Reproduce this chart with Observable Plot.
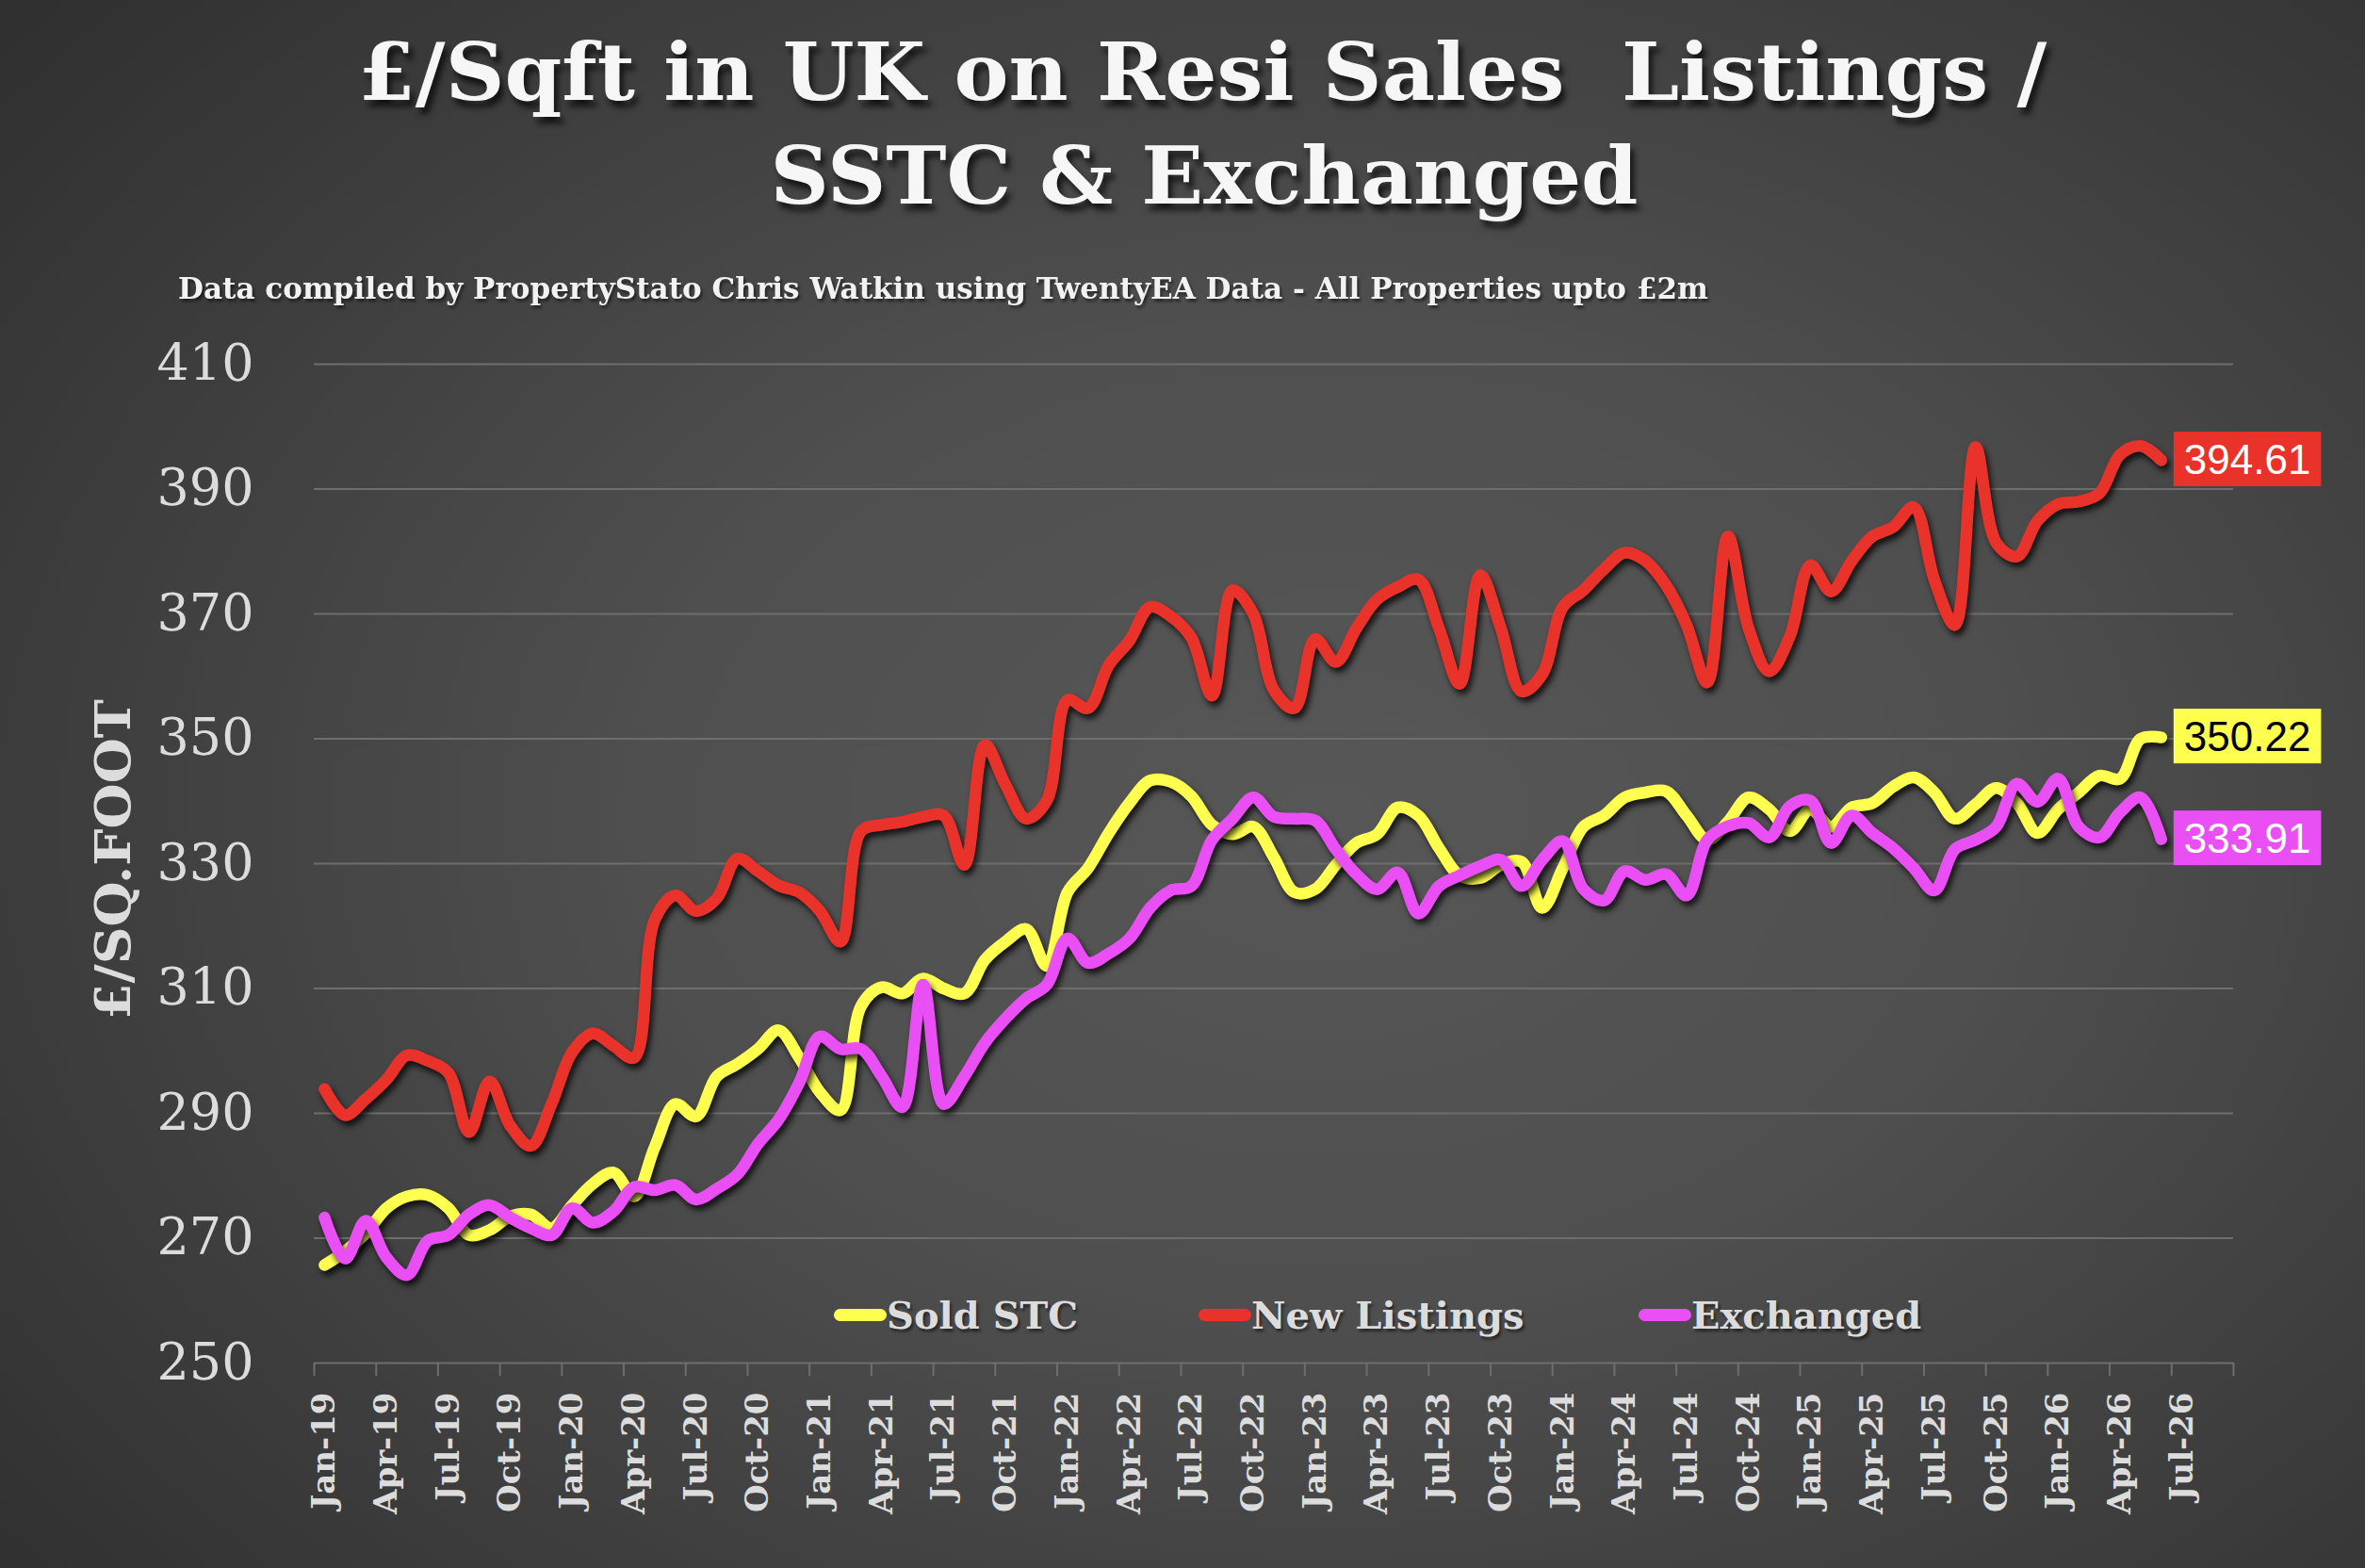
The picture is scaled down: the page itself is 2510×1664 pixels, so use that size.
<!DOCTYPE html>
<html>
<head>
<meta charset="utf-8">
<script src="https://cdn.jsdelivr.net/npm/d3@7"></script>
<script src="https://cdn.jsdelivr.net/npm/@observablehq/plot@0.6"></script>
<style>
  html, body { margin: 0; padding: 0; background: #333; }
  #chart {
    position: relative; width: 2510px; height: 1664px; overflow: hidden;
    background: radial-gradient(ellipse 72% 78% at 56% 52%, #575757 0%, #4f4f4f 40%, #3d3d3d 75%, #303030 100%);
  }
  .title {
    position: absolute; left: 0; text-align: center; white-space: pre;
    font-family: "DejaVu Serif"; font-weight: bold; color: #f6f6f6;
    font-size: 84px; line-height: 84px;
    text-shadow: 4px 7px 6px rgba(0,0,0,0.7);
  }
  .title span { display: inline-block; transform-origin: center; }
  #subtitle {
    position: absolute; left: 189px; top: 291px; white-space: pre;
    font-family: "DejaVu Serif"; font-weight: bold; color: #f2f2f2;
    font-size: 31px; line-height: 31px; transform-origin: left center;
    text-shadow: 2px 3px 3px rgba(0,0,0,0.5);
  }
  #ylabel {
    position: absolute; left: 120px; top: 912px; white-space: pre;
    font-family: "DejaVu Serif"; font-weight: bold; color: #dcdcdc;
    font-size: 52px; line-height: 52px;
    transform-origin: center;
  }
  #plotwrap { position: absolute; left: 0; top: 340px; }
  .leg {
    position: absolute; top: 1365px; height: 60px; display: flex; align-items: center;
    font-family: "DejaVu Serif"; font-weight: bold; font-size: 40px; color: #dcdcdc;
    white-space: pre; text-shadow: 2px 3px 3px rgba(0,0,0,0.5);
  }
  .leg .sw { display: inline-block; width: 56px; height: 13px; border-radius: 7px; }
</style>
</head>
<body>
<div id="chart">
  <div class="title" style="top:35px; width:2552px;"><span id="t1">£/Sqft in UK on Resi Sales  Listings /</span></div>
  <div class="title" style="top:145px; width:2556px;"><span id="t2">SSTC &amp; Exchanged</span></div>
  <div id="subtitle">Data compiled by PropertyStato Chris Watkin using TwentyEA Data - All Properties upto £2m</div>
  <div id="ylabel">£/SQ.FOOT</div>
  <div id="plotwrap"></div>
  <div id="legend"></div>
</div>
<script>
// ---------- DATA ----------
const seriesNames = ["Sold STC", "New Listings", "Exchanged"];
const seriesColors = ["#ffff4f", "#e8322a", "#e94ff4"];
const labelTextColors = ["black", "white", "white"];

// Monthly values, Jan-19 .. Jun-26
const soldSTC = [
  265.7, 267.9, 270.8, 274.8, 276.7, 276.9, 274.8, 270.5, 271.3, 273.5, 273.8, 271.6,
  275.3, 278.7, 280.5, 276.7, 284.6, 291.5, 289.5, 295.9, 297.9, 300.3, 303.3, 298.9,
  293.4, 290.5, 307.2, 310.2, 309.2, 311.6, 310.0, 309.2, 314.6, 317.5, 319.5, 313.6,
  325.4, 329.3, 334.9, 339.7, 343.3, 343.1, 340.8, 336.2, 334.7, 335.9, 331.0, 325.4,
  325.9, 329.8, 333.3, 334.7, 339.0, 337.7, 332.5, 328.1, 327.7, 329.8, 330.3, 322.9,
  329.3, 335.9, 337.7, 340.6, 341.4, 341.6, 337.7, 333.8, 336.7, 340.6, 338.7, 335.2,
  338.7, 335.9, 339.0, 339.7, 342.3, 343.8, 341.4, 337.2, 339.5, 342.1, 339.7, 334.9,
  338.7, 341.4, 344.1, 343.6, 350.0, 350.22
];
const newListings = [
  293.9, 289.7, 292.3, 295.4, 299.3, 298.4, 296.5, 287.0, 295.1, 288.0, 284.8, 291.5,
  299.8, 302.8, 300.8, 298.9, 321.0, 324.9, 322.4, 324.4, 330.8, 328.8, 326.5, 325.4,
  322.4, 317.5, 335.2, 336.2, 336.7, 337.5, 337.7, 329.8, 349.0, 342.6, 337.2, 340.1,
  356.2, 354.9, 361.8, 365.7, 371.1, 369.6, 366.2, 356.9, 373.8, 370.0, 357.8, 354.9,
  366.0, 362.3, 367.7, 372.3, 374.3, 375.5, 367.7, 358.8, 376.2, 367.7, 357.6, 360.3,
  371.1, 373.8, 377.2, 379.8, 378.5, 374.6, 368.2, 359.0, 382.4, 367.7, 360.8, 366.4,
  377.8, 373.6, 378.5, 382.4, 383.9, 387.1, 375.5, 368.2, 396.7, 381.4, 379.2, 384.9,
  387.6, 388.0, 389.3, 395.5, 396.9, 394.61
];
const exchanged = [
  273.3, 266.7, 272.8, 266.9, 264.1, 269.6, 270.5, 273.8, 275.3, 273.3, 271.6, 270.5,
  274.8, 272.5, 274.3, 278.2, 277.7, 278.5, 276.2, 277.9, 280.2, 285.1, 289.0, 294.9,
  302.3, 300.3, 300.3, 295.9, 291.0, 310.6, 291.5, 295.9, 301.3, 305.2, 308.4, 310.6,
  318.0, 314.1, 315.6, 318.0, 322.9, 325.7, 326.4, 333.8, 337.2, 340.6, 337.5, 337.2,
  336.9, 332.3, 328.3, 325.9, 328.6, 322.0, 326.4, 328.1, 329.6, 330.6, 326.4, 330.6,
  333.6, 325.9, 324.1, 328.8, 327.4, 328.3, 324.9, 333.8, 336.0, 336.5, 334.2, 339.2,
  340.1, 333.3, 337.7, 334.9, 332.5, 329.3, 325.7, 332.3, 333.8, 335.9, 342.8, 339.9,
  343.6, 335.9, 334.2, 338.2, 340.6, 333.91
];

// Axis: quarterly labels (one per 3 months), axis spans 93 monthly slots (Jan-19 .. Sep-26)
const tickLabels = [
  "Jan-19","Apr-19","Jul-19","Oct-19",
  "Jan-20","Apr-20","Jul-20","Oct-20",
  "Jan-21","Apr-21","Jul-21","Oct-21",
  "Jan-22","Apr-22","Jul-22","Oct-22",
  "Jan-23","Apr-23","Jul-23","Oct-23",
  "Jan-24","Apr-24","Jul-24","Oct-24",
  "Jan-25","Apr-25","Jul-25","Oct-25",
  "Jan-26","Apr-26","Jul-26"
];
const axisSlots = 93;
const yTicks = [250, 270, 290, 310, 330, 350, 370, 390, 410];

// ---------- BUILD ----------
const allSeries = [soldSTC, newListings, exchanged];
const rows = [];
allSeries.forEach((arr, s) => arr.forEach((v, i) => rows.push({series: seriesNames[s], month: i + 0.5, value: v})));
const tickMarks = d3.range(0, axisSlots + 1, 3);
const labelPos = tickLabels.map((_, k) => k * 3 + 0.5);
const endLabels = allSeries.map((arr, s) => ({
  series: seriesNames[s], month: arr.length - 1 + 0.5, value: arr[arr.length - 1],
  text: arr[arr.length - 1].toFixed(2), color: seriesColors[s], textColor: labelTextColors[s]
}));
// draw order: red, yellow, magenta on top
const drawOrder = [1, 0, 2];

const plot = Plot.plot({
  width: 2510, height: 1324,
  marginLeft: 333, marginRight: 140, marginTop: 46, marginBottom: 218,
  style: {background: "transparent", color: "#dcdcdc", fontFamily: "DejaVu Serif", overflow: "visible"},
  x: {domain: [0, axisSlots], axis: null},
  y: {domain: [250, 410], axis: null},
  marks: [
    Plot.gridY(yTicks, {stroke: "#6e6e6e", strokeOpacity: 1, strokeWidth: 2}),
    Plot.axisY(yTicks, {tickSize: 0, tickPadding: 64, fontSize: 54, label: null, fill: "#dcdcdc"}),
    Plot.axisX(tickMarks, {tickSize: 14, tickFormat: () => "", stroke: "#6e6e6e", strokeWidth: 2, label: null}),
    Plot.axisX(labelPos, {tickSize: 0, tickPadding: 31, tickRotate: -90, fontSize: 34, fontWeight: "bold",
      fill: "#dcdcdc", label: null, tickFormat: d => tickLabels[Math.round((d - 0.5) / 3)]}),
    ...drawOrder.map(s => Plot.line(rows.filter(r => r.series === seriesNames[s]), {
      x: "month", y: "value", stroke: seriesColors[s], strokeWidth: 12.5,
      curve: "catmull-rom", strokeLinecap: "round", strokeLinejoin: "round"
    })),
    Plot.text(endLabels, {x: "month", y: "value", text: "text", dx: 24, textAnchor: "start",
      fill: "textColor", fontSize: 44, fontFamily: "Liberation Sans"})
  ]
});
document.getElementById("plotwrap").appendChild(plot);

// line shadows
plot.querySelectorAll('g[aria-label="line"]').forEach(g => {
  g.style.filter = "drop-shadow(3px 5px 3px rgba(0,0,0,0.75))";
});
// label boxes
const ns = "http://www.w3.org/2000/svg";
plot.querySelectorAll('g[aria-label="text"] text').forEach((t, i) => {
  const b = t.getBBox();
  const r = document.createElementNS(ns, "rect");
  r.setAttribute("x", b.x - 11);
  r.setAttribute("y", b.y + b.height / 2 - 29);
  r.setAttribute("width", b.width + 22);
  r.setAttribute("height", 58);
  r.setAttribute("fill", endLabels[i].color);
  if (t.getAttribute("transform")) r.setAttribute("transform", t.getAttribute("transform"));
  t.parentNode.insertBefore(r, t);
});

// legend
const legend = document.getElementById("legend");
const legX = [885, 1272, 1739];
seriesNames.forEach((name, s) => {
  const d = document.createElement("div");
  d.className = "leg";
  d.style.left = legX[s] + "px";
  const sw = document.createElement("span");
  sw.className = "sw";
  sw.style.background = seriesColors[s];
  const tx = document.createElement("span");
  tx.textContent = name;
  d.appendChild(sw); d.appendChild(tx);
  legend.appendChild(d);
});

// fit text widths to the original layout
function fitWidth(el, target) {
  const w = el.getBoundingClientRect().width;
  el.style.transform = `scaleX(${target / w})`;
}
fitWidth(document.getElementById("t1"), 1792);
fitWidth(document.getElementById("t2"), 921);
fitWidth(document.getElementById("subtitle"), 1624);
const yl = document.getElementById("ylabel");
const ylw = yl.getBoundingClientRect().width, ylh = yl.getBoundingClientRect().height;
yl.style.left = (120 - ylw / 2) + "px";
yl.style.top = (912 - ylh / 2) + "px";
yl.style.transform = `rotate(-90deg) scaleX(${340 / ylw})`;
</script>
</body>
</html>
